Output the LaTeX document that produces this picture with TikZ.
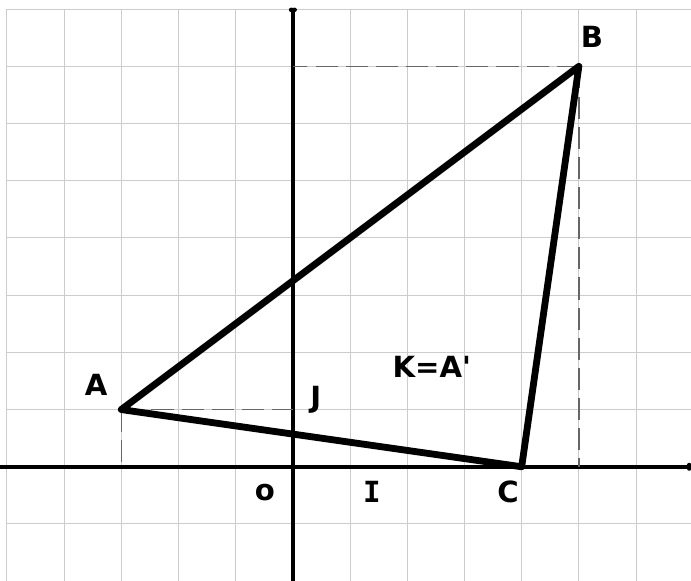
\documentclass[tikz,border=0pt]{standalone}
\usepackage{fontspec}
\setmainfont{DejaVu Sans}
\newfontfamily\slabfont{DejaVu Sans Mono}
\usetikzlibrary{arrows,arrows.meta,positioning,calc}

\tikzset{
  lbl/.style={font=\fontsize{14.5}{16}\selectfont\bfseries},
  proj/.style={dash pattern=on 11pt off 4pt, black!60, line width=0.7pt},
  side/.style={line width=3.4pt, line join=round},
  axe/.style={-{To[length=2pt,width=4pt]}, line width=2.2pt}
}

\begin{document}
\begin{tikzpicture}[x=1cm, y=1cm]
            \useasboundingbox (-5.12,-1.99) rectangle (6.96,8.16);
            % grid
            \draw[black!20, line width=0.5pt] (-5,-2) grid (7,8);
            % points
            \coordinate (O) at (0,0);
            \coordinate (A) at (-3,1);
            \coordinate (B) at (5,7);
            \coordinate (C) at (4,0);
            \coordinate (Ax) at (-3,0);
            \coordinate (Ay) at (0,1);
            \coordinate (Bx) at (5,0);
            \coordinate (By) at (0,7);
            \coordinate (xl) at (-5.12,0);
            \coordinate (xr) at (6.96,0);
            \coordinate (yb) at (0,-1.99);
            \coordinate (yt) at (0,8.02);
            % axis
            \draw[axe] (xl) -- (xr);
            \draw[axe] (yb) -- (yt);
            % projections
            \draw[proj] (A) -- (Ay);
            \draw[proj] (A) -- (Ax);
            \draw[proj] (B) -- (By);
            \draw[proj] (B) -- (Bx);
            % triangle
            \draw[side] (A) -- (B) -- (C) -- cycle;
            % labels
            \node[lbl] (lA) at (-3.44,1.43) {A};
            \node[lbl] (lB) at (5.23,7.52) {B};
            \node[lbl] (lC) at (3.76,-0.44) {C};
            \node[lbl] (lO) at (-0.49,-0.45) {o};
            \node[lbl] (lI) at (1.38,-0.44) {\slabfont I};
            \node[lbl] (lJ) at (0.40,1.17) {J};
            \node[lbl] (lK) at (2.43,1.75) {K=A\textquotesingle};
        \end{tikzpicture}
\end{document}
